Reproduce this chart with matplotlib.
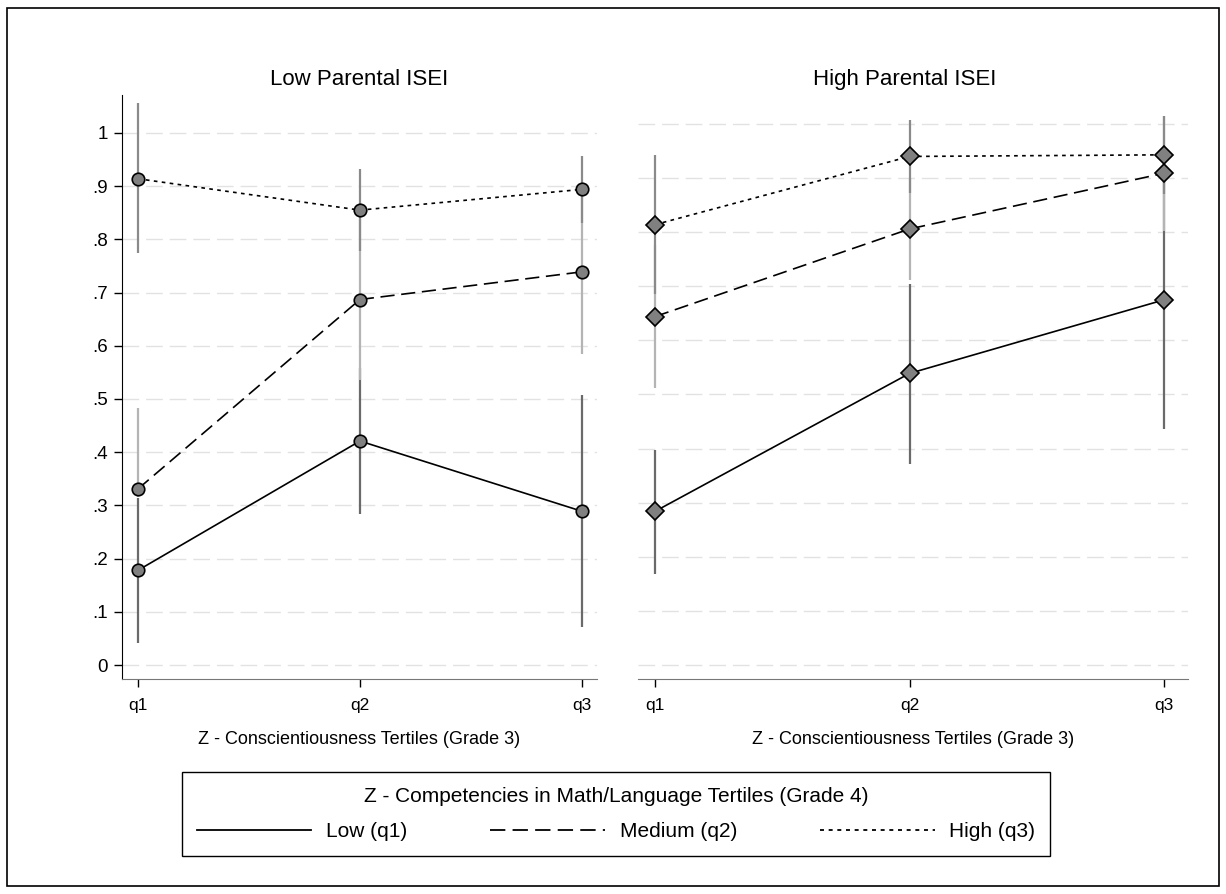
import matplotlib
matplotlib.use("Agg")
import matplotlib.pyplot as plt
from matplotlib.lines import Line2D
from matplotlib.patches import Rectangle

plt.rcParams['font.family'] = ['Liberation Sans', 'DejaVu Sans']

# categories on the x axis
tertiles = ["q1", "q2", "q3"]
xpos = [1, 2, 3]

# Low parental ISEI panel
low_left = [0.178, 0.421, 0.289]
low_left_ci = [(0.042, 0.314), (0.284, 0.558), (0.071, 0.507)]
med_left = [0.331, 0.687, 0.739]
med_left_ci = [(0.315, 0.484), (0.536, 0.838), (0.585, 0.893)]
high_left = [0.914, 0.855, 0.894]
high_left_ci = [(0.774, 1.056), (0.779, 0.932), (0.831, 0.957)]

# High parental ISEI panel
low_right = [0.284, 0.539, 0.675]
low_right_ci = [(0.169, 0.397), (0.372, 0.705), (0.436, 0.914)]
med_right = [0.644, 0.806, 0.909]
med_right_ci = [(0.512, 0.776), (0.712, 0.900), (0.803, 1.015)]
high_right = [0.814, 0.940, 0.943]
high_right_ci = [(0.685, 0.943), (0.873, 1.007), (0.871, 1.015)]

yticks = [0, .1, .2, .3, .4, .5, .6, .7, .8, .9, 1]
yticklabels = ["0", ".1", ".2", ".3", ".4", ".5", ".6", ".7", ".8", ".9", "1"]

series_names = ["Low (q1)", "Medium (q2)", "High (q3)"]
line_styles = ["-", (0, (8.5, 4)), (0, (2.2, 2.6))]
ci_colors = ["#6a6a6a", "#b4b4b4", "#8a8a8a"]

W, H = 1226, 894
fig = plt.figure(figsize=(W / 100, H / 100), dpi=100)

def px_axes(x0, x1, y0, y1):
    return fig.add_axes([x0 / W, 1 - y1 / H, (x1 - x0) / W, (y1 - y0) / H])

ax_l = px_axes(122, 597, 95, 679)
ax_r = px_axes(638, 1188, 95, 679)


def draw_panel(ax, series, cis, marker, msize):
    # gridlines first
    for yv in yticks:
        ax.axhline(yv, color="#e2e2e2", lw=1.0, ls=(0, (12, 5)), zorder=0)
    # confidence intervals, low -> medium -> high
    for ci, col in zip(cis, ci_colors):
        for x, (lo, hi) in zip(xpos, ci):
            ax.plot([x, x], [lo, hi], color=col, lw=1.6, solid_capstyle="butt", zorder=2)
    # lines with markers
    for vals, ls in zip(series, line_styles):
        ax.plot(xpos, vals, color="black", lw=1.2, ls=ls, zorder=3)
        ax.plot(xpos, vals, ls="none", marker=marker, ms=msize, mfc="#808080",
                mec="black", mew=1.2, zorder=4)
    ax.set_xticks(xpos)
    ax.set_xticklabels(tertiles, fontsize=12.5)
    ax.set_xlabel("Z - Conscientiousness Tertiles (Grade 3)", fontsize=13, labelpad=13)
    ax.spines["top"].set_visible(False)
    ax.spines["right"].set_visible(False)
    ax.spines["bottom"].set_color("#777777")
    ax.tick_params(axis="x", length=6, width=1, color="black", pad=8)


draw_panel(ax_l, [low_left, med_left, high_left],
           [low_left_ci, med_left_ci, high_left_ci], "o", 9)
ax_l.set_xlim(0.928, 3.068)
ax_l.set_ylim(-0.0263, 1.0714)
ax_l.set_yticks(yticks)
ax_l.set_yticklabels(yticklabels, fontsize=13.5)
ax_l.tick_params(axis="y", length=6, width=1, pad=4)
ax_l.set_title("Low Parental ISEI", fontsize=16, pad=7)

draw_panel(ax_r, [low_right, med_right, high_right],
           [low_right_ci, med_right_ci, high_right_ci], "D", 9.5)
ax_r.set_xlim(0.933, 3.094)
ax_r.set_ylim(-0.0259, 1.0536)
ax_r.spines["left"].set_visible(False)
ax_r.set_yticks([])
ax_r.set_title("High Parental ISEI", fontsize=16, pad=7, x=0.485)

# shared legend at the bottom
handles = [Line2D([], [], color="black", lw=1.3, ls=ls) for ls in line_styles]
leg = fig.legend(handles, series_names, loc="center", bbox_to_anchor=(616 / W, 1 - 814 / H),
                 ncol=3, fontsize=15, title="Z - Competencies in Math/Language Tertiles (Grade 4)",
                 title_fontsize=15, handlelength=5.5, handletextpad=0.7, columnspacing=4.0,
                 fancybox=False, framealpha=1, edgecolor="black", borderpad=0.7,
                 labelspacing=0.8)
leg.get_frame().set_linewidth(1.0)

# outer frame around the whole graph
fig.patches.append(Rectangle((7 / W, 1 - 886 / H), 1212 / W, 878 / H, transform=fig.transFigure,
                             fill=False, edgecolor="black", lw=1.2))

fig.savefig("out.png", dpi=100)
